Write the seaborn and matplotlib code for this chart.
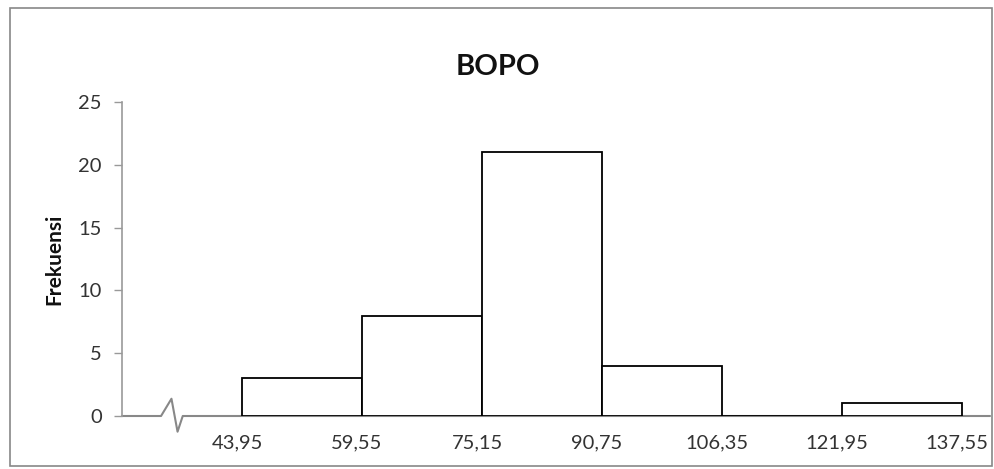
import matplotlib
matplotlib.use("Agg")
import matplotlib.pyplot as plt
import matplotlib.transforms as mtransforms
import seaborn as sns
import numpy as np
import pandas as pd

edges = [43.95, 59.55, 75.15, 90.75, 106.35, 121.95, 137.55]
freqs = [3, 8, 21, 4, 0, 1]
tick_labels = ["43,95", "59,55", "75,15", "90,75", "106,35", "121,95", "137,55"]
yticks = [0, 5, 10, 15, 20, 25]

sns.set_style("white")
plt.rcParams['font.family'] = ['Lato', 'DejaVu Sans']

mids = [(a + b) / 2 for a, b in zip(edges[:-1], edges[1:])]
df = pd.DataFrame({"mid": mids, "freq": freqs})

fig = plt.figure(figsize=(9.95, 4.69), dpi=100)
ax = fig.add_axes([0.1226, 0.113, 0.8724, 0.6695])

sns.histplot(data=df, x="mid", weights="freq", bins=edges, ax=ax,
             color="white", edgecolor="black", linewidth=1.3, alpha=1)

width = edges[1] - edges[0]
ax.set_xlim(edges[0] - width, edges[-1] + 3.64)
ax.set_ylim(0, 25)
ax.set_yticks(yticks)
ax.set_yticklabels([str(v) for v in yticks], fontsize=14.5, color="#333333")
ax.set_xticks(edges)
ax.set_xticklabels(tick_labels, fontsize=14.5, color="#333333")
ax.tick_params(axis="x", length=0, pad=13)
ax.tick_params(axis="y", length=6, width=1, color="#999999", direction="out", pad=8.5, left=True)
offset = mtransforms.ScaledTranslation(-5 / 100, 0, fig.dpi_scale_trans)
for lab in ax.get_xticklabels():
    lab.set_horizontalalignment("center")
    lab.set_transform(lab.get_transform() + offset)

for s in ["top", "right", "bottom"]:
    ax.spines[s].set_visible(False)
ax.spines["left"].set_color("#999999")
ax.spines["left"].set_linewidth(1.2)

# x axis line with break symbol (axes coordinates)
trans = ax.transAxes
zx = [0.0, 0.045, 0.057, 0.064, 0.070, 0.094, 1.0]
zy = [0, 0, 0.055, -0.05, 0, 0, 0]
ax.plot(zx, zy, color="#888888", lw=1.5, transform=trans, clip_on=False, zorder=0)

ax.set_xlabel("")
ax.set_ylabel("Frekuensi", fontsize=15, fontweight="bold", color="#111111")
ax.yaxis.set_label_coords(-0.066, 0.5)
fig.suptitle("BOPO", x=0.5, y=1 - 67 / 469, va="center", fontsize=21, fontweight="bold", color="#111111")

# outer frame
fig.patches.append(plt.Rectangle((0.0105, 0.007), 0.9865, 0.976, transform=fig.transFigure,
                                 fill=False, edgecolor="#888888", linewidth=1.2))

fig.savefig("out.png", dpi=100)
